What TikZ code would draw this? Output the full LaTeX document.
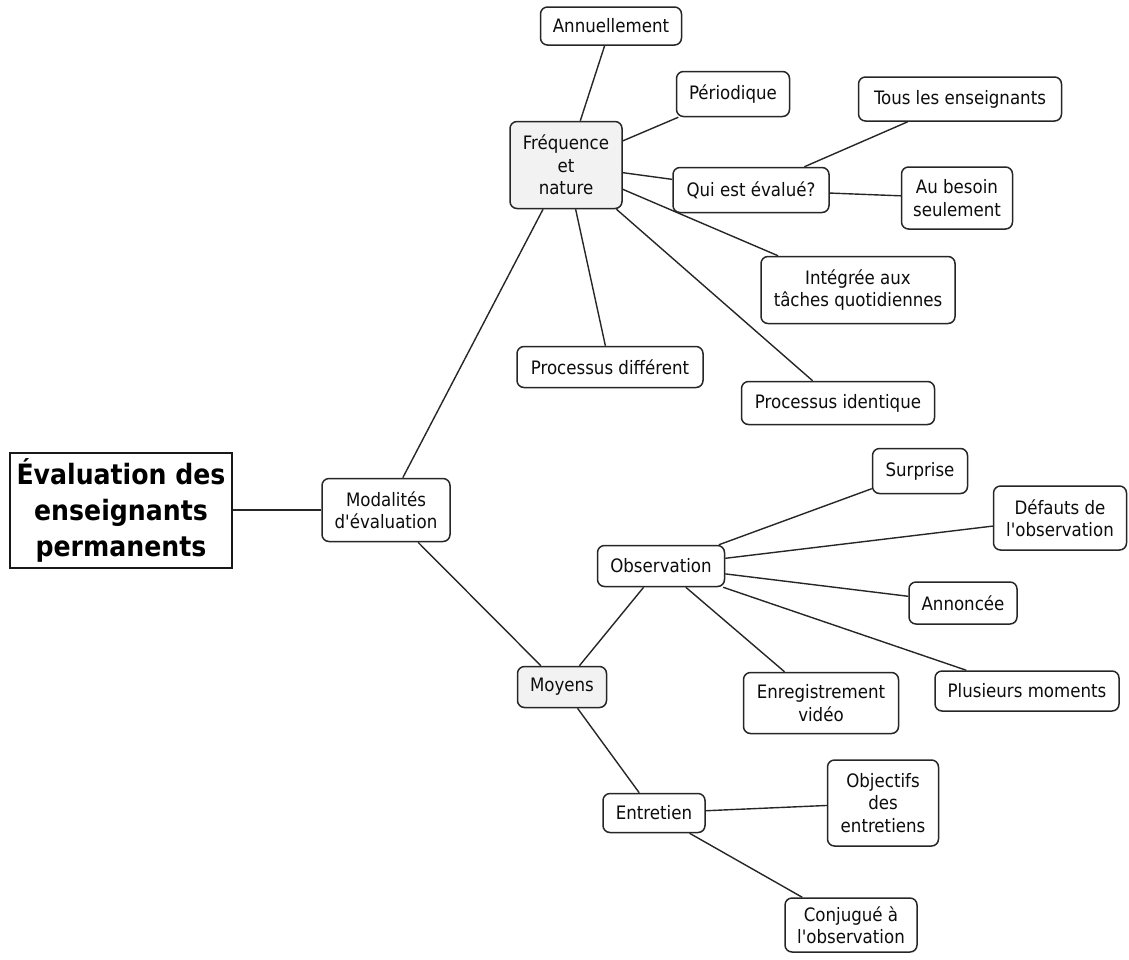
\documentclass[tikz,border=0pt]{standalone}
\usepackage{fontspec}
\setmainfont{DejaVu Sans Condensed}[Ligatures=TeXOff]
\newcommand{\conceptfont}{\fontsize{18.5}{22.5}\selectfont}
\newcommand{\rootfont}{\fontsize{28}{36}\selectfont\bfseries}
\tikzset{
  concept/.style={draw=black!85, line width=1.5pt, rounded corners=7pt,
    fill=white, align=center, font=\conceptfont, text=black!95, inner sep=1pt},
  shaded/.style={fill=black!5},
  rootbox/.style={draw=black!90, line width=2pt, fill=white, align=center,
    font=\rootfont, text=black, inner sep=1pt},
  size/.style 2 args={minimum width=#1pt, minimum height=#2pt},
  link/.style={draw=black!85, line width=1.4pt}
}
\begin{document}
\begin{tikzpicture}[x=1pt, y=-1pt]
\useasboundingbox (0,0) rectangle (1129,959);

% main concept
\node[rootbox, size={222}{115}] (root) at (121,510) {Évaluation des\\enseignants\\permanents};
\node[concept, size={128}{63}] (mod) at (386,510) {Modalités\\d'évaluation};

% frequency and nature branch
\node[concept, shaded, size={112}{87}] (freq) at (566,165) {Fréquence\\et\\nature};
\node[concept, size={141}{38}] (annu) at (611,26) {Annuellement};
\node[concept, size={113}{45}] (peri) at (733,94) {Périodique};
\node[concept, size={156}{45}] (qui) at (751,190) {Qui est évalué?};
\node[concept, size={203}{44}] (tous) at (960,99) {Tous les enseignants};
\node[concept, size={111}{62}] (besoin) at (957,198) {Au besoin\\seulement};
\node[concept, size={194}{67}] (integ) at (858,290) {Intégrée aux\\tâches quotidiennes};
\node[concept, size={186}{41}] (pdiff) at (610,367) {Processus différent};
\node[concept, size={193}{43}] (pident) at (838,403) {Processus identique};

% means branch
\node[concept, shaded, size={89}{41}] (moy) at (562,687) {Moyens};
\node[concept, size={127}{41}] (obs) at (661,566) {Observation};
\node[concept, size={95}{45}] (surp) at (920,471) {Surprise};
\node[concept, size={133}{64}] (def) at (1060,518) {Défauts de\\l'observation};
\node[concept, size={108}{42}] (ann) at (963,603) {Annoncée};
\node[concept, size={184}{40}] (plus) at (1027,691) {Plusieurs moments};
\node[concept, size={155}{61}] (enr) at (821,703) {Enregistrement\\vidéo};
\node[concept, size={102}{39}] (entr) at (654,813) {Entretien};
\node[concept, size={111}{86}] (obj) at (883,803) {Objectifs\\des\\entretiens};
\node[concept, size={132}{54}] (conj) at (851,925) {Conjugué à\\l'observation};

% connectors, centre to centre, cut at the box borders
\draw[link] (root) -- (mod);
\draw[link] (mod) -- (freq);
\draw[link] (mod) -- (moy);
\draw[link] (freq) -- (annu);
\draw[link] (freq) -- (peri);
\draw[link] (freq) -- (qui);
\draw[link] (qui) -- (tous);
\draw[link] (qui) -- (besoin);
\draw[link] (freq) -- (integ);
\draw[link] (freq) -- (pdiff);
\draw[link] (freq) -- (pident);
\draw[link] (moy) -- (obs);
\draw[link] (moy) -- (entr);
\draw[link] (obs) -- (surp);
\draw[link] (obs) -- (def);
\draw[link] (obs) -- (ann);
\draw[link] (obs) -- (plus);
\draw[link] (obs) -- (enr);
\draw[link] (entr) -- (obj);
\draw[link] (entr) -- (conj);
\end{tikzpicture}
\end{document}
